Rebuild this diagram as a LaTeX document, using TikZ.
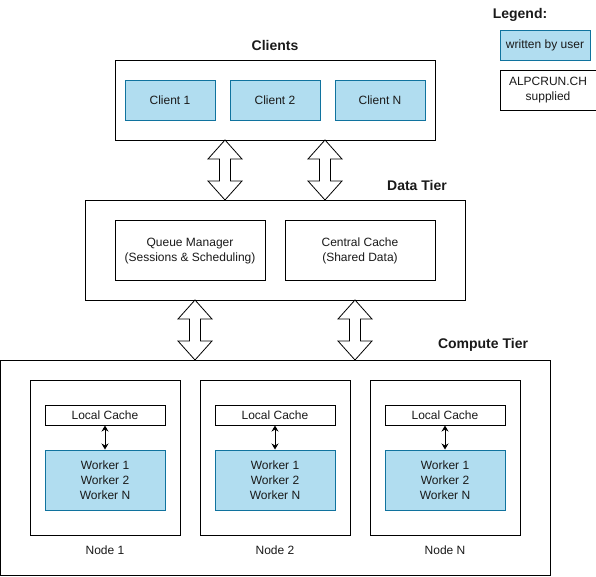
\documentclass[tikz,border=0pt]{standalone}
\usepackage{fontspec}
\setmainfont{Liberation Sans}
\usetikzlibrary{arrows.meta}
\definecolor{ufill}{HTML}{B1DDF0}
\definecolor{ustroke}{HTML}{10739E}
\definecolor{txt}{HTML}{1A1A1A}
\newcommand\fatarrow[3]{%
  \draw[fill=white, line width=0.8pt, line join=miter] (#1,#2) -- ++(17,19) -- ++(-11.5,0) -- (#1+5.5,#3-19) -- ++(11.5,0) -- (#1,#3)
    -- ++(-17,-19) -- ++(11.5,0) -- (#1-5.5,#2+19) -- ++(-11.5,0) -- cycle;}
\begin{document}
\begin{tikzpicture}[x=1pt,y=-1pt, line width=1pt,
  every node/.style={text=txt, font=\fontsize{12}{15}\selectfont, align=center, inner sep=0pt},
  sz/.style 2 args={minimum width=#1, minimum height=#2},
  plainbox/.style={draw=black, fill=white},
  userbox/.style={draw=ustroke, fill=ufill},
  tierlabel/.style={font=\fontsize{14}{16}\selectfont\bfseries},
  smallarrow/.style={{Stealth[length=6pt,width=7pt]}-{Stealth[length=6pt,width=7pt]}, line width=1pt}]
\useasboundingbox (0,0) rectangle (596,576);

% Legend
\node[tierlabel] (legt) at (520,15) {Legend:};
\node[userbox, sz={90}{30}] (leguser) at (545,45) {written by user};
\node[plainbox, sz={96}{40}] (legsup) at (548,90) {ALPCRUN.CH\\supplied};

% Clients
\node[tierlabel] (clt) at (275,45) {Clients};
\node[plainbox, sz={320}{80}] (clients) at (275,100) {};
\node[userbox, sz={90}{40}] (c1) at (170,100) {Client 1};
\node[userbox, sz={90}{40}] (c2) at (275,100) {Client 2};
\node[userbox, sz={90}{40}] (cn) at (380,100) {Client N};

% Data tier
\node[tierlabel] (dtt) at (417,185) {Data Tier};
\node[plainbox, sz={380}{100}] (data) at (275,250) {};
\node[plainbox, sz={150}{60}] (qm) at (190,250) {};
\node (qmt) at (190,251) {Queue Manager\\(Sessions \& Scheduling)};
\node[plainbox, sz={150}{60}] (cc) at (360,250) {};
\node (cct) at (360,251) {Central Cache\\(Shared Data)};

% Compute tier
\node[tierlabel] (ctt) at (483,345) {Compute Tier};
\node[plainbox, sz={549.5}{215}] (compute) at (275.25,467.5) {};

\foreach \i/\x/\lab in {1/105/Node 1, 2/275/Node 2, 3/445/Node N} {
  \node[plainbox, sz={150}{155}] (node\i) at (\x,457.5) {};
  \node[plainbox, sz={120}{20}] (lc\i) at (\x,415) {Local Cache};
  \node[userbox, sz={120}{60}] (w\i) at (\x,480) {Worker 1\\Worker 2\\Worker N};
  \draw[smallarrow] (lc\i) -- (w\i);
  \node (nl\i) at (\x,550) {\lab};
}

% Fat double arrows
\fatarrow{225}{140}{200}
\fatarrow{325}{140}{200}
\fatarrow{195}{300}{360}
\fatarrow{355}{300}{360}
\end{tikzpicture}
\end{document}
